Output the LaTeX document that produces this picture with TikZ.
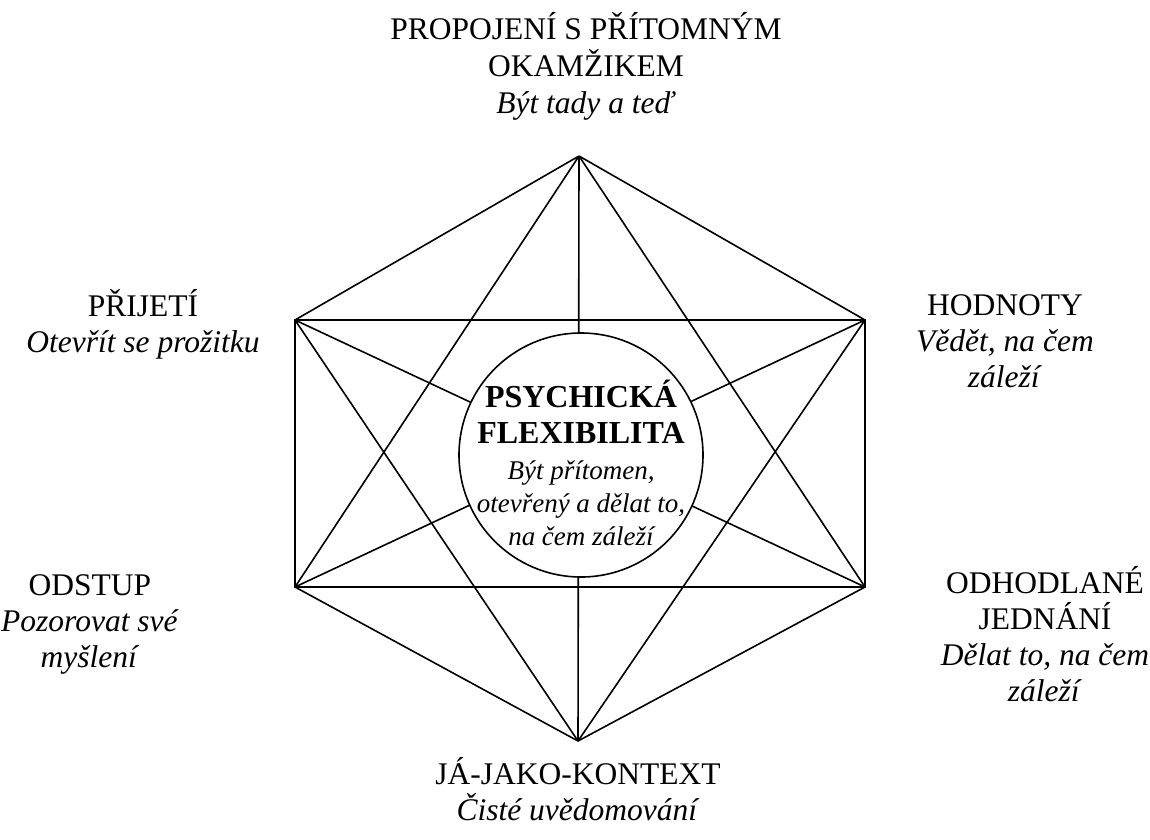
\documentclass[tikz,border=0pt]{standalone}
\usepackage{fontspec}
\setmainfont{Liberation Serif}
\begin{document}
\begin{tikzpicture}[x=1pt,y=-1pt,
  edge/.style={line width=1.6pt, line join=miter},
  rectedge/.style={line width=2.4pt},
  lbl/.style={align=center, inner sep=0pt, anchor=base, font=\fontsize{31.5}{36}\selectfont},
  hubstyle/.style={draw, line width=1.6pt, fill=white, circle, minimum size=244pt, inner sep=0pt}]
\useasboundingbox (0,0) rectangle (1150,839);
\coordinate (T) at (579,156);
\coordinate (UL) at (295,320);
\coordinate (UR) at (865,320);
\coordinate (LL) at (295,587);
\coordinate (LR) at (865,587);
\coordinate (B) at (578,741);
% complete graph on the six vertices
\draw[edge] (T) -- (UL) (T) -- (UR) (T) -- (LL) (T) -- (LR) (T) -- (B);
\draw[edge] (UL) -- (LR) (UL) -- (B);
\draw[edge] (UR) -- (LL) (UR) -- (B);
\draw[edge] (LL) -- (B) (LR) -- (B);
\draw[rectedge] (UL) -- (UR) -- (LR) -- (LL) -- cycle;
\node[hubstyle] (hub) at (581,455) {};
\node[lbl, font=\bfseries\fontsize{32}{36}\selectfont] (hubtitle) at (581,443) {PSYCHICKÁ\\FLEXIBILITA};
\node[lbl, font=\itshape\fontsize{27}{33}\selectfont] (hubtext) at (581,545) {Být přítomen,\\otevřený a dělat to,\\na čem záleží};
\node[lbl, font=\fontsize{31.5}{37}\selectfont] (top) at (586,113) {PROPOJENÍ S PŘÍTOMNÝM\\OKAMŽIKEM\\\textit{Být tady a teď}};
\node[lbl] (acc) at (143,352) {PŘIJETÍ\\\textit{Otevřít se prožitku}};
\node[lbl] (val) at (1005,387) {HODNOTY\\\textit{Vědět, na čem}\\\textit{záleží}};
\node[lbl] (def) at (90,667) {ODSTUP\\\textit{Pozorovat své}\\\textit{myšlení}};
\node[lbl] (com) at (1045,701) {ODHODLANÉ\\JEDNÁNÍ\\\textit{Dělat to, na čem}\\\textit{záleží}};
\node[lbl] (self) at (578,820) {JÁ-JAKO-KONTEXT\\\textit{Čisté uvědomování}};
\end{tikzpicture}
\end{document}
